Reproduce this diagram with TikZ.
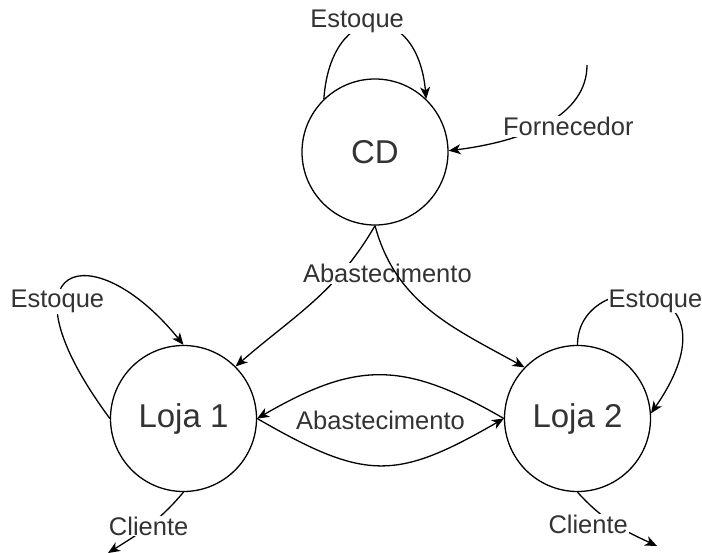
\documentclass[tikz,border=0pt]{standalone}
\usepackage{fontspec}
\setmainfont{Liberation Sans}
\usetikzlibrary{arrows.meta}
\tikzset{%
  >={Stealth[length=12pt,width=10pt,inset=3.5pt]},
  store/.style={circle,draw,line width=1.3pt,minimum size=146pt,inner sep=0pt,
    text=black!80,font=\fontsize{33}{37}\selectfont},%
  flow/.style={->,line width=1.3pt},%
  lbl/.style={fill=white,inner sep=1pt,text=black!80,
    font=\fontsize{25.5}{29}\selectfont}%
}
\begin{document}
\begin{tikzpicture}[x=1pt,y=1pt]
\useasboundingbox (0,0) rectangle (702,-553);

%% the three stores
\node[store] (CD) at (375,-152) {CD};
\node[store] (L1) at (183.5,-418.5) {Loja 1};
\node[store] (L2) at (577.5,-418.5) {Loja 2};

%% free ends
\coordinate (forn) at (587,-65);
\coordinate (cli1) at (108,-553);
\coordinate (cli2) at (657,-546);

% stock loops
\draw[flow] (CD.134) to[out=86,in=95,looseness=2.5]
    node[lbl,pos=0.42,xshift=-6,yshift=5] {Estoque} (CD.46);
\draw[flow] (L1.180) .. controls (-6,-262) and (92,-232) ..
    node[lbl,pos=0.35] {Estoque} (L1.90);
\draw[flow] (L2.90) .. controls (577.5,-265) and (747.5,-274) ..
    node[lbl,pos=0.5,xshift=5,yshift=-4] {Estoque} (L2.4);

% supplier
\draw[flow] (forn) .. controls (587,-115) and (527,-141) ..
    node[lbl,pos=0.45,xshift=14,yshift=-8] {Fornecedor} (CD.1);

% supply from CD
\draw[flow] (CD.-90) to[out=-120,in=41]
    node[lbl,pos=0.28,xshift=46] {Abastecimento} (L1.45);
\draw[flow] (CD.-90) to[out=-75,in=151] (L2.136);

% supply between the stores
\draw[flow] (L2.180) to[out=150,in=30,looseness=1.2] (L1.0);
\draw[flow] (L1.0) to[out=-30,in=-150,looseness=1.3]
    node[lbl,pos=0.5,yshift=45] {Abastecimento} (L2.180);

% customers
\draw[flow] (L1.-90) to[out=-130,in=32] node[lbl,pos=0.5] {Cliente} (cli1);
\draw[flow] (L2.-90) to[out=-48,in=155]
    node[lbl,pos=0.45,xshift=-22,yshift=-3] {Cliente} (cli2);

\end{tikzpicture}
\end{document}
